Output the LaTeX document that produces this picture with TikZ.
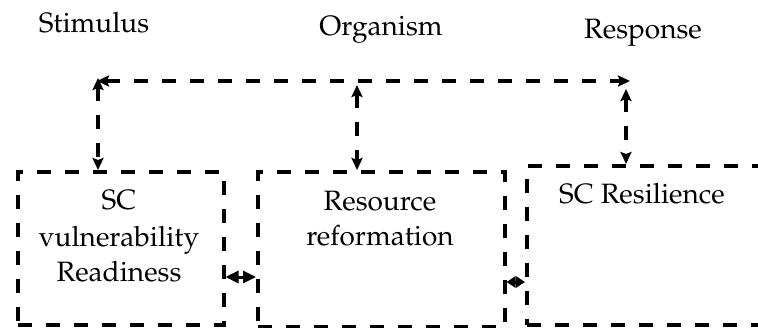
\documentclass[tikz,border=0pt]{standalone}
\usepackage[T1]{fontenc}
\renewcommand{\rmdefault}{ppl}
\usetikzlibrary{arrows.meta}
\tikzset{
  dsh/.style={line width=3.5pt, dash pattern=on 14pt off 14pt},
  boxnode/.style={dsh, draw, anchor=north west, inner sep=0pt},
  txt/.style={anchor=base, inner sep=0pt, font=\fontsize{28}{36}\selectfont},
  arr/.style={dsh, {Stealth[length=12pt,width=11pt,inset=2pt]}-{Stealth[length=12pt,width=11pt,inset=2pt]}},
  sarr/.style={line width=3pt, {Triangle[length=13pt,width=12pt]}-{Triangle[length=13pt,width=12pt]}},
  sarrb/.style={line width=3pt, {Triangle[length=9pt,width=11pt]}-{Triangle[length=9pt,width=11pt]}},
}
\begin{document}
\begin{tikzpicture}[x=1pt,y=-1pt]
\useasboundingbox (0,0) rectangle (758,327);
% headings
\node[txt] (stim) at (94,32) {Stimulus};
\node[txt] (org) at (381,35) {Organism};
\node[txt] (resp) at (643,38) {Response};
% boxes
\node[boxnode, minimum width=206pt, minimum height=153pt] (b1) at (16,170) {};
\node[boxnode, minimum width=247pt, minimum height=155pt] (b2) at (256,170) {};
\node[boxnode, minimum width=250pt, minimum height=159pt] (b3) at (525,164) {};
% box texts
\node[txt] (t1a) at (119,209) {SC};
\node[txt] (t1b) at (119,246) {vulnerability};
\node[txt] (t1c) at (119,281) {Readiness};
\node[txt] (t2a) at (380,210) {Resource};
\node[txt] (t2b) at (380,245) {reformation};
\node[txt] (t3a) at (642,203) {SC Resilience};
% top connector
\coordinate (cl) at (98,81);
\coordinate (cm) at (357,81);
\coordinate (cr) at (626,81);
\draw[arr, shorten <=-1pt, shorten >=-4pt] (cl) -- (cr);
\draw[arr, shorten <=-3pt] (cl) -- (cl |- b1.north);
\draw[arr, shorten <=4pt] (cm) -- (cm |- b2.north);
\draw[arr, shorten <=8pt] (cr) -- (cr |- b3.north);
% side connectors
\coordinate (s1) at (0,277);
\coordinate (s2) at (0,282);
\draw[sarr] (b1.east |- s1) -- (b2.west |- s1);
\draw[sarrb] (b2.east |- s2) -- (b3.west |- s2);
\end{tikzpicture}
\end{document}
